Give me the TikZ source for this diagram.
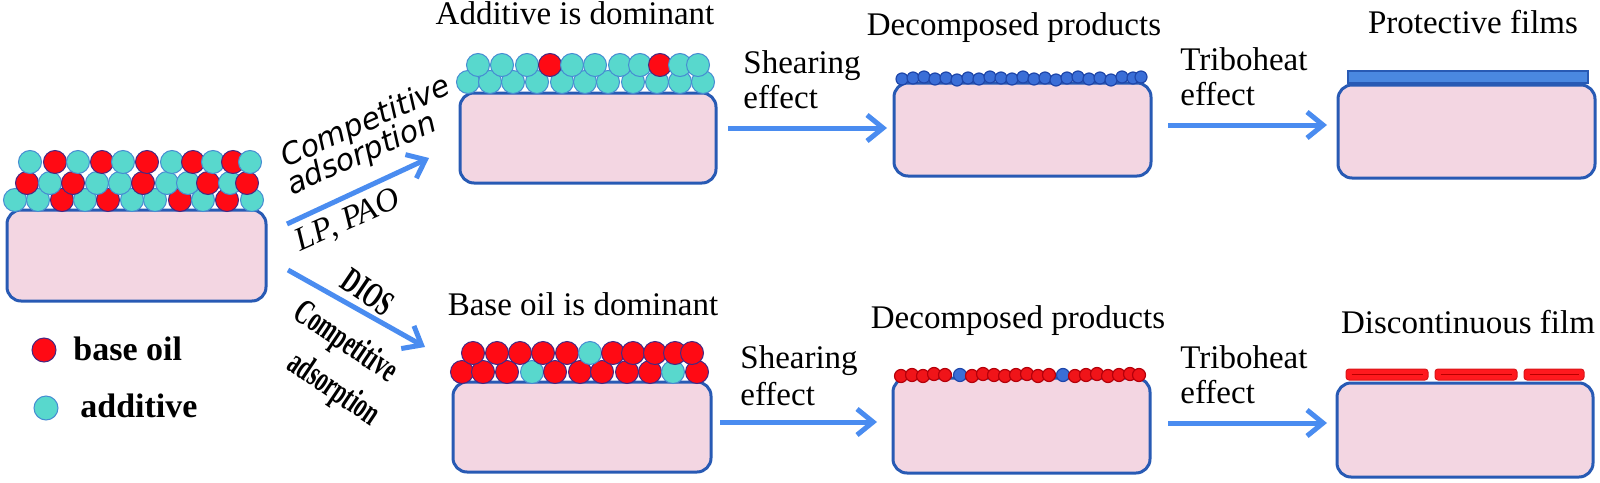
\documentclass[tikz,border=0pt]{standalone}
\usepackage{fontspec}
\usepackage{graphicx}
\setmainfont{Liberation Serif}
\newfontfamily\vsans{DejaVu Sans}
\usetikzlibrary{arrows.meta}
\definecolor{pinkfill}{RGB}{243,214,226}
\definecolor{edgeblue}{RGB}{40,90,180}
\definecolor{arrowblue}{RGB}{74,140,240}
\definecolor{tealfill}{RGB}{88,216,205}
\definecolor{tealedge}{RGB}{70,140,210}
\definecolor{redfill}{RGB}{255,10,20}
\definecolor{rededge}{RGB}{70,40,130}
\definecolor{filmblue}{RGB}{74,136,224}
\definecolor{filmred}{RGB}{255,25,30}
\definecolor{filmline}{RGB}{185,0,0}
\definecolor{dotblue}{RGB}{58,110,215}
\definecolor{dotedge}{RGB}{30,70,170}
\definecolor{dotred}{RGB}{240,20,25}
\definecolor{dotrededge}{RGB}{180,0,10}
\tikzset{
  substrate/.style={draw=edgeblue, fill=pinkfill, line width=1.5pt, rounded corners=7pt, inner sep=0pt},
  flow/.style={draw=arrowblue, line width=2.5pt, -{Straight Barb[length=8pt,width=13pt]}},
  titletext/.style={font=\fontsize{16.5pt}{18pt}\selectfont, anchor=base, inner sep=0pt},
  steptext/.style={font=\fontsize{16.5pt}{18pt}\selectfont, anchor=base west, inner sep=0pt},
  legendtext/.style={font=\fontsize{17pt}{19pt}\selectfont\bfseries, anchor=base west, inner sep=0pt},
  tb/.style={fill=tealfill, draw=tealedge, line width=0.5pt},
  rb/.style={fill=redfill, draw=rededge, line width=0.5pt},
  bd/.style={fill=dotblue, draw=dotedge, line width=0.6pt},
  rd/.style={fill=dotred, draw=dotrededge, line width=0.6pt},
  upperdiag/.style={font=\vsans\itshape\fontsize{15pt}{17pt}\selectfont, inner sep=0pt, rotate=24},
  lowerdiag/.style={font=\fontsize{18pt}{20pt}\selectfont\bfseries, inner sep=0pt, rotate=-34},
  redseg/.style={fill=filmred, draw=filmred!85!black, line width=0.5pt, rounded corners=1.5pt, inner sep=0pt, minimum height=5.5pt}
}
\begin{document}
\begin{tikzpicture}[x=0.5pt, y=-0.5pt]
\useasboundingbox (0,0) rectangle (1600,482);

% ---------- initial surface ----------
\node[substrate, minimum width=129.5pt, minimum height=45.5pt] (s0) at (136.5,255.5) {};
\foreach \x/\c in {15/tb,38/tb,62/rb,85/tb,108/rb,132/tb,155/tb,180/rb,203/tb,227/rb,252/tb}
  \draw[\c] (\x,200) circle[radius=5.75pt];
\foreach \x/\c in {27/rb,50/tb,73/rb,97/tb,120/tb,143/rb,167/tb,188/tb,208/rb,230/tb,247/rb}
  \draw[\c] (\x,183) circle[radius=5.75pt];
\foreach \x/\c in {30/tb,55/rb,78/tb,102/rb,123/tb,147/rb,172/tb,193/rb,213/tb,233/rb,250/tb}
  \draw[\c] (\x,162) circle[radius=5.75pt];

% legend
\draw[rb] (44,350) circle[radius=6pt];
\draw[tb] (46,408) circle[radius=6pt];
\node[legendtext] (lg1) at (73,360) {base oil};
\node[legendtext] (lg2) at (80,417) {additive};

% ---------- additive dominant ----------
\node[substrate, minimum width=128pt, minimum height=45pt] (a1) at (588,138) {};
\foreach \x in {468,490,513,537,562,585,608,633,657,680,703}
  \draw[tb] (\x,82) circle[radius=5.75pt];
\foreach \x/\c in {478/tb,502/tb,527/tb,550/rb,572/tb,595/tb,620/tb,640/tb,660/rb,680/tb,698/tb}
  \draw[\c] (\x,65) circle[radius=5.75pt];
\node[titletext] (t1) at (575,25) {Additive is dominant};

% ---------- base oil dominant ----------
\node[substrate, minimum width=129pt, minimum height=45pt] (b1) at (582,427) {};
\foreach \x/\c in {462/rb,483/rb,507/rb,532/tb,555/rb,580/rb,602/rb,627/rb,650/rb,673/tb,697/rb}
  \draw[\c] (\x,372) circle[radius=5.75pt];
\foreach \x/\c in {473/rb,497/rb,520/rb,543/rb,567/rb,590/tb,613/rb,633/rb,655/rb,675/rb,692/rb}
  \draw[\c] (\x,353) circle[radius=5.75pt];
\node[titletext] (t4) at (583,315) {Base oil is dominant};

% ---------- decomposed products (top) ----------
\node[substrate, minimum width=128.5pt, minimum height=46.5pt] (a2) at (1022.5,129.5) {};
\foreach \x/\y in {902/79,913/78,924/77,935/79,946/78,957/80,968/78,979/79,990/77,1001/78,1012/79,1023/77,1034/79,1045/78,1056/80,1067/78,1078/77,1089/79,1100/78,1111/80,1122/77,1133/78,1141/77}
  \draw[bd] (\x,\y) circle[radius=3pt];
\node[titletext] (t2) at (1014,35) {Decomposed products};

% ---------- decomposed products (bottom) ----------
\node[substrate, minimum width=128.5pt, minimum height=47.5pt] (b2) at (1021.5,425.5) {};
\foreach \x/\y/\c in {901/376/rd,912/375/rd,923/376/rd,934/374/rd,945/375/rd,960/375/bd,972/376/rd,983/374/rd,994/375/rd,1005/376/rd,1016/375/rd,1027/374/rd,1038/376/rd,1049/375/rd,1063/375/bd,1075/376/rd,1086/375/rd,1097/374/rd,1108/376/rd,1119/375/rd,1130/374/rd,1139/375/rd}
  \draw[\c] (\x,\y) circle[radius=3.25pt];
\node[titletext] (t5) at (1018,328) {Decomposed products};

% ---------- protective films ----------
\node[substrate, minimum width=128.5pt, minimum height=46.5pt] (a3) at (1466.5,131.5) {};
\node[draw=edgeblue, fill=filmblue, line width=1pt, minimum width=120pt, minimum height=6pt, inner sep=0pt] (pf) at (1468,77) {};
\node[titletext] (t3) at (1473,33) {Protective films};

% ---------- discontinuous film ----------
\node[substrate, minimum width=128pt, minimum height=47pt] (b3) at (1465,430) {};
\node[redseg, minimum width=41pt] (r1) at (1387,374.5) {};
\node[redseg, minimum width=41pt] (r2) at (1476,374.5) {};
\node[redseg, minimum width=30pt] (r3) at (1554,374.5) {};
\foreach \s in {r1,r2,r3}
  \draw[filmline, line width=0.9pt] ([xshift=3pt]\s.west) -- ([xshift=-3pt]\s.east);
\node[titletext] (t6) at (1468,333) {Discontinuous film};

% ---------- arrows ----------
\coordinate (u0) at (287,224);
\coordinate (u1) at (429,158);
\coordinate (d0) at (288,270);
\coordinate (d1) at (425,347);
\coordinate (sa0) at (728,128);
\coordinate (sa1) at (887,128);
\coordinate (ta0) at (1168,125);
\coordinate (ta1) at (1327,125);
\coordinate (sb0) at (720,422);
\coordinate (sb1) at (877,422);
\coordinate (tb0) at (1168,423);
\coordinate (tb1) at (1327,423);
\draw[flow] (u0) -- (u1);
\draw[flow] (d0) -- (d1);
\draw[flow] (sa0) -- (sa1);
\draw[flow] (ta0) -- (ta1);
\draw[flow] (sb0) -- (sb1);
\draw[flow] (tb0) -- (tb1);

% ---------- arrow labels ----------
\node[upperdiag] (c1) at (366,123) {Competitive};
\node[upperdiag] (c2) at (362,155) {adsorption};
\node[font=\fontsize{16.5pt}{18pt}\selectfont\itshape, inner sep=0pt, rotate=24] (lp) at (348,221) {LP, PAO};
\node[lowerdiag] (di) at (368,292) {\scalebox{0.62}[1]{DIOS}};
\node[lowerdiag] (c3) at (345,343) {\scalebox{0.62}[1]{Competitive}};
\node[lowerdiag] (c4) at (333,390) {\scalebox{0.62}[1]{adsorption}};

\node[steptext] (sh1) at (743,73) {Shearing};
\node[steptext] (ef1) at (743,108) {effect};
\node[steptext] (tr1) at (1180,70) {Triboheat};
\node[steptext] (ef2) at (1180,105) {effect};
\node[steptext] (sh2) at (740,368) {Shearing};
\node[steptext] (ef3) at (740,405) {effect};
\node[steptext] (tr2) at (1180,368) {Triboheat};
\node[steptext] (ef4) at (1180,403) {effect};
\end{tikzpicture}
\end{document}
